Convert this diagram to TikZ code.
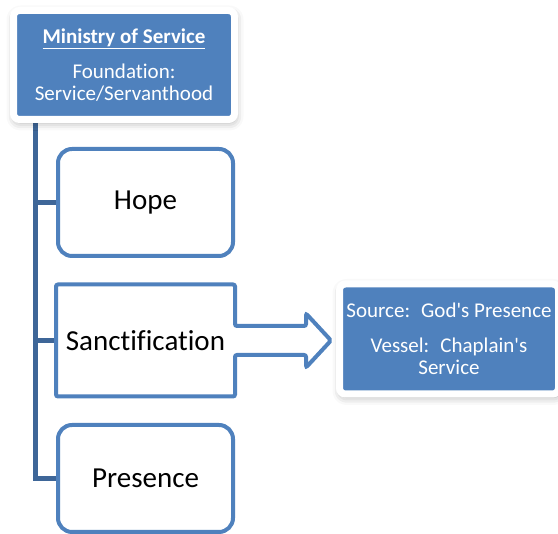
\documentclass[tikz,border=0pt]{standalone}
\usepackage{fontspec}
\setmainfont{Carlito}[Ligatures={TeXOff,NoCommon}]
\usetikzlibrary{positioning,shadows.blur,backgrounds}
\definecolor{boxblue}{RGB}{79,129,189}
\definecolor{linkblue}{RGB}{62,102,152}

\begin{document}
\begin{tikzpicture}[x=1pt, y=1pt, node distance=138pt,
  topic/.style={rectangle, rounded corners=14pt, draw=boxblue, line width=4pt, fill=white, minimum width=175pt, minimum height=107pt, inner sep=0pt, font=\fontsize{29}{34}\selectfont},
  bluebox/.style={rectangle, rounded corners=6pt, draw=white, line width=7pt, fill=boxblue, text=white, align=center, inner sep=0pt, font=\fontsize{21}{22}\selectfont, blur shadow={shadow xshift=1pt, shadow yshift=-3pt, shadow blur radius=8pt, shadow opacity=35}},
  link/.style={draw=linkblue, line width=4.5pt}]
\useasboundingbox (0,0) rectangle (558,534);

\node (ministry) [bluebox, minimum width=221pt, minimum height=109pt] at (124,469) {\underline{\textbf{Ministry of Service}}\\[13pt]Foundation:\\Service/Servanthood};
\node (hope) [topic] at (145.5,331.5) {Hope};
\node (sanct) [topic, draw=none, minimum height=108pt, below of=hope] {Sanctification};
\node (presence) [topic, below of=sanct] {Presence};
\node (source) [bluebox, minimum width=219pt, minimum height=110pt] at (449,195) {Source:~ God's Presence\\[13pt]Vessel:~ Chaplain's\\Service};

% sanctification box with its arrow
\draw[draw=boxblue, line width=4pt, rounded corners=2pt] (sanct.north west) -- (sanct.north east) -- ([yshift=14.5pt]sanct.east) -- ++(71,0) -- ++(0,12.5) -- ([xshift=96pt]sanct.east) -- ++(-25,-27) -- ++(0,12.5) -- ([yshift=-14.5pt]sanct.east) -- (sanct.south east) -- (sanct.south west) -- cycle;

\begin{scope}[on background layer]
\coordinate (trunk) at ([xshift=25.5pt]ministry.south west);
\draw[link] (trunk) |- (presence.west);
\draw[link] (trunk |- hope.west) -- (hope.west);
\draw[link] (trunk |- sanct.west) -- (sanct.west);
\end{scope}
\end{tikzpicture}
\end{document}
